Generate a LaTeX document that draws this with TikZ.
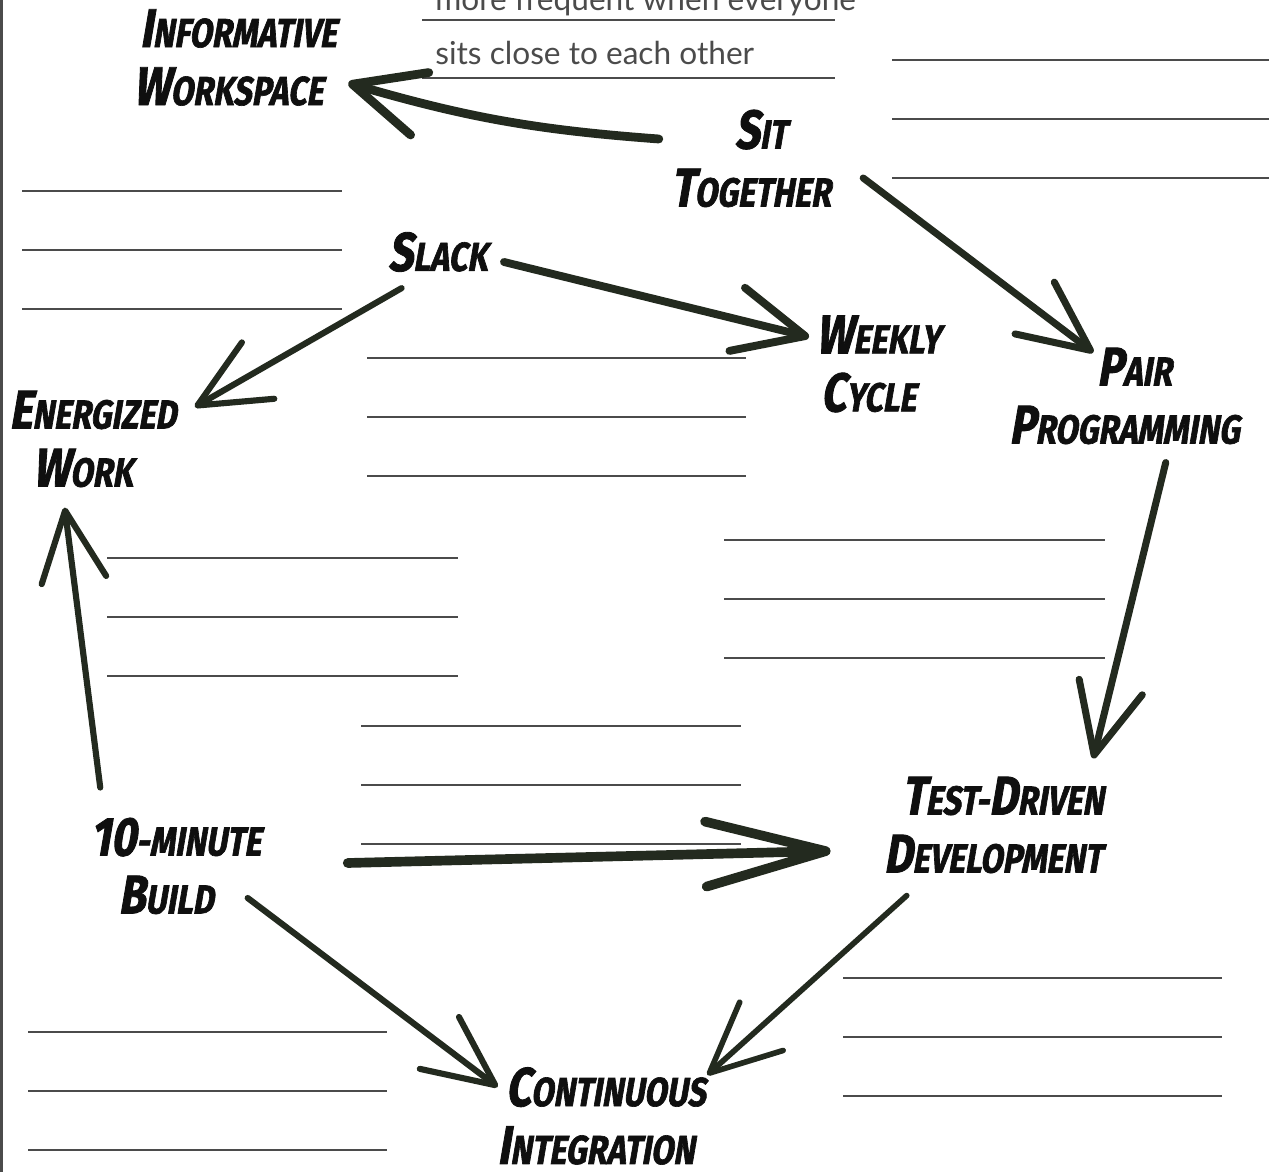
\documentclass[tikz,border=0pt]{standalone}
\usepackage{fontspec}
\usepackage{tikz}
\usetikzlibrary{arrows.meta}

\newfontfamily\brushfont[FakeStretch=0.8, FakeBold=1.6,
    BoldFeatures={FakeStretch=0.8, FakeBold=1.6}]{Fira Sans}
\newfontfamily\notefont{Lato}

\definecolor{ink}{RGB}{15,15,15}
\definecolor{arrowink}{RGB}{35,42,31}
\definecolor{ruleink}{RGB}{75,75,75}

% big first letter, the rest as small capitals
\newcommand{\capword}[2]{{\fontsize{31}{33}\selectfont #1}#2}

\tikzset{
  concept/.style={font=\brushfont\bfseries\fontsize{23}{33}\selectfont, text=ink, align=center,
                  inner sep=0pt, xslant=0.17, transform shape},
  flow/.style={draw=arrowink, line width=4pt, line cap=round, -{Straight Barb[length=1.4cm, width=1.3cm, round]}},
  ruling/.style={draw=ruleink, line width=1.7pt},
  note/.style={font=\notefont\fontsize{18}{18}\selectfont, text=ruleink, anchor=base west, inner sep=0pt}
}

\begin{document}
\begin{tikzpicture}[x=0.02cm, y=-0.02cm]
    \useasboundingbox (0,0) rectangle (1269,1172);
    \clip (0,0) rectangle (1269,1172);

    % blank lines for notes, three per block
    \foreach \xa/\xb/\ya in {892/1269/60, 22/342/191, 367/746/358, 724/1105/540,
                             107/458/558, 361/741/726, 843/1222/978, 28/387/1032}
        \foreach \k in {0,1,2}
            \draw[ruling] (\xa,\ya+59*\k) -- (\xb,\ya+59*\k);

    % the filled-in note
    \draw[ruling] (422,20) -- (835,20);
    \draw[ruling] (422,78) -- (835,78);
    \node[note] (note1) at (435,11) {more frequent when everyone};
    \node[note] (note2) at (435,65) {sits close to each other};

    % page edge
    \draw[ruleink, line width=0.05cm] (1.5,0) -- (1.5,1172);

    % practices
    \node[concept] (info) at (236.5,57.5) {\capword{I}{NFORMATIVE}\\\capword{W}{ORKSPACE}};
    \node[concept] (sit) at (759,158.5) {\capword{S}{IT}\\\capword{T}{OGETHER}};
    \node[concept] (slack) at (441,252) {\capword{S}{LACK}};
    \node[concept] (weekly) at (876.5,364) {\capword{W}{EEKLY}\\\capword{C}{YCLE}};
    \node[concept] (pair) at (1132.5,396) {\capword{P}{AIR}\\\capword{P}{ROGRAMMING}};
    \node[concept] (energized) at (91,439) {\capword{E}{NERGIZED}\\\capword{W}{ORK}};
    \node[concept] (build) at (174,866) {\capword{10}{-MINUTE}\\\capword{B}{UILD}};
    \node[concept] (tdd) at (1001,825) {\capword{T}{EST-}\capword{D}{RIVEN}\\\capword{D}{EVELOPMENT}};
    \node[concept] (ci) at (604,1116) {\capword{C}{ONTINUOUS}\\\capword{I}{NTEGRATION}};

    % how they lead into each other
    \draw[flow, line width=5pt] ([shift={(-20,-19.5)}]sit.west) to[bend left=6] ([shift={(13,25.5)}]info.east);
    \draw[flow] ([shift={(24,19.5)}]sit.east) -- ([shift={(-47.5,5)}]pair.north);
    \draw[flow, line width=4.5pt] ([shift={(13,10)}]slack.east) -- ([shift={(-5,-27)}]weekly.west);
    \draw[flow, line width=3.5pt] ([shift={(-36,16)}]slack.south) -- ([shift={(20,-32)}]energized.east);
    \draw[flow] ([shift={(41.5,18)}]pair.south) -- ([shift={(84,-18)}]tdd.north);
    \draw[flow, line width=5.5pt, -{Straight Barb[length=2.4cm, width=1.3cm, round]}]
        ([shift={(88,-3)}]build.east) -- ([shift={(-61,26)}]tdd.west);
    \draw[flow, line width=3.5pt] ([shift={(-82,-30)}]build.north) -- ([shift={(-18,20)}]energized.south);
    \draw[flow, line width=3.5pt] ([shift={(-12,32)}]build.east) -- ([shift={(-6,-29)}]ci.west);
    \draw[flow, line width=3.2pt] ([shift={(-86,22)}]tdd.south) -- ([shift={(3,-41)}]ci.east);
\end{tikzpicture}
\end{document}
